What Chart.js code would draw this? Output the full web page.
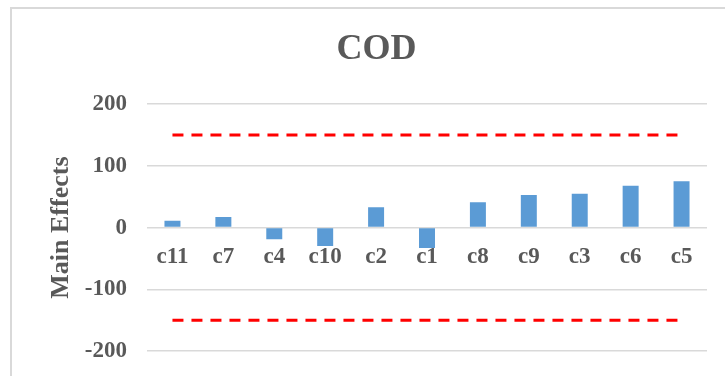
<!DOCTYPE html>
<html>
<head>
<meta charset="utf-8">
<script src="https://cdn.jsdelivr.net/npm/chart.js@4"></script>
<style>
    html, body { margin: 0; padding: 0; background: #fff; overflow: hidden; }
    #wrap { position: relative; width: 725px; height: 376px; }
    #frame {
        position: absolute; left: 10px; top: 7px;
        width: 800px; height: 500px;
        border: 2px solid #d9d9d9; box-sizing: border-box;
    }
    #codChart { position: absolute; left: 0; top: 0; }
</style>
</head>
<body>
<div id="wrap">
    <div id="frame"></div>
    <canvas id="codChart" width="725" height="376"></canvas>
</div>
<script>
    /* --- Data --- */
    const categories = ['c11', 'c7', 'c4', 'c10', 'c2', 'c1', 'c8', 'c9', 'c3', 'c6', 'c5'];
    const mainEffects = [11, 17, -19, -30, 33, -33, 41, 53, 55, 68, 75];
    const upperLimit = [150, 150, 150, 150, 150, 150, 150, 150, 150, 150, 150];
    const lowerLimit = [-150, -150, -150, -150, -150, -150, -150, -150, -150, -150, -150];
    const yTicks = [-200, -100, 0, 100, 200];

    const textGrey = '#595959';
    const serif = '"Liberation Serif", "Times New Roman", serif';

    Chart.defaults.font.family = serif;
    Chart.defaults.font.weight = 'bold';
    Chart.defaults.color = textGrey;

    const limitLine = (values) => ({
        type: 'line',
        data: values,
        borderColor: '#ff0000',
        borderWidth: 3,
        borderDash: [11, 8],
        pointRadius: 0,
        fill: false
    });

    new Chart(document.getElementById('codChart').getContext('2d'), {
        type: 'bar',
        data: {
            labels: categories,
            datasets: [
                {
                    label: 'Main Effects',
                    data: mainEffects,
                    backgroundColor: '#5b9bd5',
                    borderWidth: 0,
                    categoryPercentage: 1,
                    barPercentage: 0.314
                },
                limitLine(upperLimit),
                limitLine(lowerLimit)
            ]
        },
        options: {
            responsive: false,
            animation: false,
            layout: { padding: { top: 28, left: 46, right: 18, bottom: 25 } },
            scales: {
                x: {
                    position: { y: 0 },
                    // category labels sit under the zero line, so they take no layout room
                    afterFit: (scale) => {
                        scale.height = 0;
                        scale.paddingTop = 0;
                        scale.paddingBottom = 0;
                    },
                    grid: { display: false, drawTicks: false },
                    border: { display: false },
                    ticks: {
                        padding: 16,
                        maxRotation: 0,
                        font: { size: 23, weight: 'bold' },
                        color: textGrey
                    }
                },
                y: {
                    min: yTicks[0],
                    max: yTicks[yTicks.length - 1],
                    afterBuildTicks: (scale) => {
                        scale.ticks = yTicks.map(v => ({ value: v }));
                    },
                    afterFit: (scale) => {
                        scale.width = 101;
                        scale.paddingBottom = 0;
                    },
                    grid: { color: '#d9d9d9', lineWidth: 1.5, drawTicks: false },
                    border: { display: false },
                    ticks: {
                        padding: 20,
                        font: { size: 23, weight: 'bold' },
                        color: textGrey
                    },
                    title: {
                        display: true,
                        text: 'Main Effects',
                        padding: { top: 0, bottom: 0 },
                        font: { size: 26, weight: 'bold' },
                        color: textGrey
                    }
                }
            },
            plugins: {
                legend: { display: false },
                tooltip: { enabled: false },
                title: {
                    display: true,
                    text: 'COD',
                    padding: { top: 0, bottom: 33 },
                    font: { size: 36, weight: 'bold' },
                    color: textGrey
                }
            }
        }
    });
</script>
</body>
</html>
